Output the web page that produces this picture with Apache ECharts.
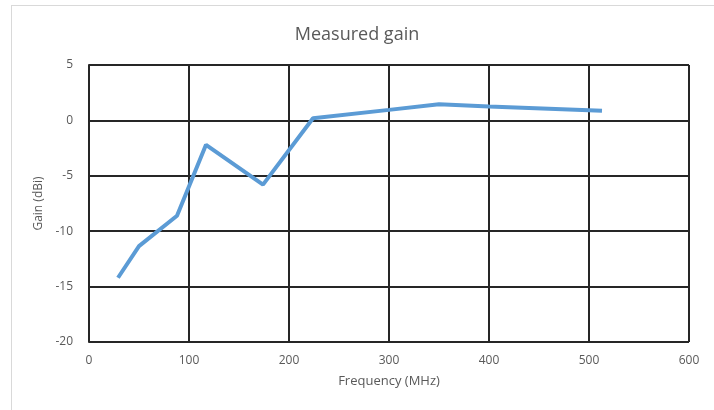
<!DOCTYPE html>
<html><head><meta charset="utf-8">
<script src="https://cdn.jsdelivr.net/npm/echarts@6/dist/echarts.min.js"></script>
<style>
html,body{margin:0;padding:0;background:#fff;}
#frame{position:absolute;left:11px;top:5px;width:720px;height:420px;border:1px solid #d9d9d9;box-sizing:border-box;}
#c{position:absolute;left:0;top:0;width:714px;height:410px;}
</style></head>
<body><div id="frame"></div><div id="c"></div>
<script>
const frequency = [29, 50, 88, 117, 174, 224, 300, 350, 400, 513];
const gain = [-14.2, -11.35, -8.6, -2.2, -5.8, 0.2, 0.95, 1.45, 1.25, 0.87];
const xTicks = [0, 100, 200, 300, 400, 500, 600];
const yTicks = [-20, -15, -10, -5, 0, 5];

const chart = echarts.init(document.getElementById('c'));
const txt = '#595959';
chart.setOption({
  animation: false,
  title: {text: 'Measured gain', left: 'center', top: 21,
    textStyle: {fontFamily: 'Open Sans', fontSize: 18, fontWeight: 'normal', color: txt}},
  grid: {left: 89, right: 25, top: 65, bottom: 68},
  xAxis: {type: 'value', min: xTicks[0], max: xTicks[xTicks.length-1], interval: 100,
    name: 'Frequency (MHz)', nameLocation: 'middle', nameGap: 33,
    nameTextStyle: {fontFamily: 'Open Sans', fontSize: 13, color: txt},
    axisLine: {show: true, lineStyle: {color: '#262626', width: 2}},
    axisTick: {show: false},
    axisLabel: {fontFamily: 'Open Sans', fontSize: 12, color: txt, margin: 13},
    splitLine: {show: true, lineStyle: {color: '#262626', width: 2}}},
  yAxis: {type: 'value', min: yTicks[0], max: yTicks[yTicks.length-1], interval: 5,
    name: 'Gain (dBi)', nameLocation: 'middle', nameGap: 37, nameRotate: 90,
    nameTextStyle: {fontFamily: 'Open Sans', fontSize: 12, color: txt},
    axisLine: {show: true, lineStyle: {color: '#262626', width: 2}},
    axisTick: {show: false},
    axisLabel: {fontFamily: 'Open Sans', fontSize: 12, color: txt, margin: 16},
    splitLine: {show: true, lineStyle: {color: '#262626', width: 2}}},
  series: [{type: 'line', data: frequency.map((f, i) => [f, gain[i]]),
    showSymbol: false, lineStyle: {color: '#5B9BD5', width: 4}, z: 5}]
});
</script></body></html>
